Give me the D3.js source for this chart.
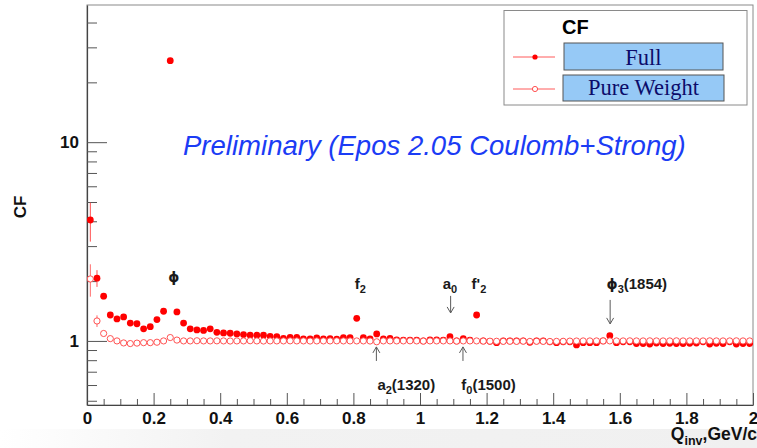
<!DOCTYPE html>
<html>
<head>
<meta charset="utf-8">
<script src="https://cdn.jsdelivr.net/npm/d3@7"></script>
<style>
  body { margin: 0; background: #fff; }
  svg { display: block; }
</style>
</head>
<body>
<svg id="chart" width="757" height="448"></svg>
<script>
// Q_inv bin centres (GeV/c), 0.02 wide bins
const binCenters = [
  0.01,0.03,0.05,0.07,0.09,0.11,0.13,0.15,0.17,0.19,
  0.21,0.23,0.25,0.27,0.29,0.31,0.33,0.35,0.37,0.39,
  0.41,0.43,0.45,0.47,0.49,0.51,0.53,0.55,0.57,0.59,
  0.61,0.63,0.65,0.67,0.69,0.71,0.73,0.75,0.77,0.79,
  0.81,0.83,0.85,0.87,0.89,0.91,0.93,0.95,0.97,0.99,
  1.01,1.03,1.05,1.07,1.09,1.11,1.13,1.15,1.17,1.19,
  1.21,1.23,1.25,1.27,1.29,1.31,1.33,1.35,1.37,1.39,
  1.41,1.43,1.45,1.47,1.49,1.51,1.53,1.55,1.57,1.59,
  1.61,1.63,1.65,1.67,1.69,1.71,1.73,1.75,1.77,1.79,
  1.81,1.83,1.85,1.87,1.89,1.91,1.93,1.95,1.97,1.99
];

// Correlation function, full calculation
const fullCF = [
  4.06,2.07,1.68,1.35,1.29,1.32,1.23,1.22,1.15,1.18,
  1.28,1.41,25.7,1.40,1.23,1.15,1.136,1.13,1.15,1.105,
  1.097,1.093,1.084,1.076,1.068,1.068,1.068,1.055,1.05,1.03,
  1.043,1.043,1.023,1.023,1.035,1.023,1.027,1.02,1.04,1.04,
  1.30,1.04,1.023,1.084,1.023,1.03,1.012,1.01,1.01,1.008,
  1.0,1.012,1.012,1.008,1.05,1.0,1.027,1.008,1.35,1.0,
  0.995,0.98,1.0,1.0,1.0,1.0,0.985,1.0,1.0,0.99,
  0.98,0.99,0.99,0.955,0.98,0.98,0.98,1.0,1.063,0.98,
  0.99,0.99,0.97,0.97,0.965,0.975,0.97,0.973,0.97,0.97,
  0.973,0.975,0.99,0.965,0.973,0.97,0.99,0.965,0.97,0.97
];
// Statistical errors of the full CF (only the first bins exceed the marker size)
const fullErr = [0.9,0.2,0.06,0.03,0.02,0.02,0.015,0.015,0.012,0.012];

// Correlation function, pure weight
const pureCF = [
  2.05,1.26,1.09,1.027,1.0,0.977,0.97,0.975,0.98,0.98,
  0.985,1.0,1.04,1.01,1.0,1.0,1.002,1.0,1.0,1.001,
  1.0,0.999,1.0,1.0,1.002,1.0,0.999,1.0,1.0,1.0,
  1.001,1.0,1.0,0.999,1.0,1.0,1.0,1.001,1.0,1.0,
  1.0,1.0,0.999,0.99,1.0,1.0,1.0,1.0,1.001,1.0,
  0.998,1.0,1.0,1.0,1.0,0.998,1.0,1.0,1.0,0.998,
  0.997,0.996,0.995,0.996,0.995,0.997,0.995,0.996,0.995,0.994,
  0.995,0.996,0.998,0.999,1.0,1.0,1.0,1.0,1.0,1.0,
  1.0,1.001,1.0,1.0,1.001,1.0,1.0,1.0,1.001,1.0,
  1.0,1.0,1.0,1.001,1.0,1.0,1.0,1.001,1.0,1.0
];
const pureErr = [0.38,0.085,0.02,0.012,0.01];

// Axis ticks
const xMajorTicks = [0,0.2,0.4,0.6,0.8,1.0,1.2,1.4,1.6,1.8,2.0];
const xTickLabels = ["0","0.2","0.4","0.6","0.8","1","1.2","1.4","1.6","1.8","2"];
const xMinorTicks = [0.05,0.1,0.15,0.25,0.3,0.35,0.45,0.5,0.55,0.65,0.7,0.75,0.85,0.9,0.95,
  1.05,1.1,1.15,1.25,1.3,1.35,1.45,1.5,1.55,1.65,1.7,1.75,1.85,1.9,1.95];
const yMajorTicks = [1,10];
const yTickLabels = ["1","10"];
const yMinorTicks = [0.5,0.6,0.7,0.8,0.9,2,3,4,5,6,7,8,9,20,30,40];

// Resonance annotations (position in Q_inv and CF)
const labels = [
  {x:0.261, y:1.98, anchor:"middle", text:"\u03d5", sub:"", tail:""},
  {x:0.804, y:1.83, anchor:"start", text:"f", sub:"2", tail:""},
  {x:1.068, y:1.83, anchor:"start", text:"a", sub:"0", tail:""},
  {x:1.155, y:1.83, anchor:"start", text:"f'", sub:"2", tail:""},
  {x:1.560, y:1.83, anchor:"start", text:"\u03d5", sub:"3", tail:"(1854)"},
  {x:0.872, y:0.567, anchor:"start", text:"a", sub:"2", tail:"(1320)"},
  {x:1.124, y:0.567, anchor:"start", text:"f", sub:"0", tail:"(1500)"}
];
const arrows = [
  {x:1.092, from:1.685, to:1.383},
  {x:1.571, from:1.608, to:1.218},
  {x:0.869, from:0.793, to:0.933},
  {x:1.129, from:0.793, to:0.933}
];

const legendTitle = "CF";
const seriesNames = ["Full", "Pure Weight"];

const FONT = "'Liberation Sans', Arial, Helvetica, sans-serif";
const GREEK = "'DejaVu Sans', 'Liberation Sans', sans-serif";
const SERIF = "'Liberation Serif', 'Times New Roman', serif";
const RED = "#ff0000";

const svg = d3.select("#chart");
const W = 757, H = 448;
const plot = {left: 87, right: 753, top: 5, bottom: 405};

const x = d3.scaleLinear().domain([0, 2]).range([plot.left, plot.right]);
const y = d3.scaleLog().domain([0.476, 49]).range([plot.bottom, plot.top]);

// soft grey band along the bottom edge
const defs = svg.append("defs");
const grad = defs.append("linearGradient").attr("id", "bandGrad")
  .attr("x1", "0").attr("x2", "1").attr("y1", "0").attr("y2", "0");
grad.append("stop").attr("offset", "0").attr("stop-color", "#fff");
grad.append("stop").attr("offset", "0.3").attr("stop-color", "#f2f2f2");
grad.append("stop").attr("offset", "1").attr("stop-color", "#f0f0f0");
svg.append("rect").attr("x", 0).attr("y", 429).attr("width", W).attr("height", H - 429)
  .attr("fill", "url(#bandGrad)");

defs.append("clipPath").attr("id", "plotClip").append("rect")
  .attr("x", plot.left).attr("y", plot.top)
  .attr("width", plot.right - plot.left).attr("height", plot.bottom - plot.top);

// frame
svg.append("rect")
  .attr("x", plot.left).attr("y", plot.top)
  .attr("width", plot.right - plot.left).attr("height", plot.bottom - plot.top)
  .attr("fill", "#fff").attr("stroke", "#8a8a8a").attr("stroke-width", 1);

// X axis
const xAxisG = svg.append("g").attr("transform", `translate(0,${plot.bottom})`);
xAxisG.call(d3.axisBottom(x).tickValues(xMajorTicks).tickSizeInner(-12).tickSizeOuter(0)
  .tickPadding(7).tickFormat((d, i) => xTickLabels[i]));
const xMinorG = svg.append("g").attr("transform", `translate(0,${plot.bottom})`);
xMinorG.call(d3.axisBottom(x).tickValues(xMinorTicks).tickSizeInner(-6).tickSizeOuter(0).tickFormat(""));
xMinorG.select(".domain").remove();

// Y axis
const yAxisG = svg.append("g").attr("transform", `translate(${plot.left},0)`);
yAxisG.call(d3.axisLeft(y).tickValues(yMajorTicks).tickSizeInner(-20).tickSizeOuter(0)
  .tickPadding(8).tickFormat((d, i) => yTickLabels[i]));
const yMinorG = svg.append("g").attr("transform", `translate(${plot.left},0)`);
yMinorG.call(d3.axisLeft(y).tickValues(yMinorTicks).tickSizeInner(-10).tickSizeOuter(0).tickFormat(""));
yMinorG.select(".domain").remove();

svg.selectAll(".domain").attr("stroke", "#444").attr("stroke-width", 1.2);
svg.selectAll(".tick line").attr("stroke", "#555").attr("stroke-width", 1);
svg.selectAll(".tick text")
  .attr("font-family", FONT).attr("font-size", 17).attr("font-weight", "bold").attr("fill", "#111");

// axis titles
svg.append("text")
  .attr("transform", "translate(26,207) rotate(-90)")
  .attr("text-anchor", "middle")
  .attr("font-family", FONT).attr("font-size", 17).attr("font-weight", "bold").attr("fill", "#111")
  .text("CF");

const xt = svg.append("text")
  .attr("x", 757).attr("y", 440).attr("text-anchor", "end")
  .attr("font-family", FONT).attr("font-size", 17.5).attr("font-weight", "bold").attr("fill", "#111");
xt.append("tspan").text("Q");
xt.append("tspan").attr("font-size", 12.5).attr("dy", 5).text("inv");
xt.append("tspan").attr("dy", -5).text(",GeV/c");

// Preliminary label
const prelim = svg.append("text")
  .attr("x", 183).attr("y", 155)
  .attr("font-family", FONT).attr("font-style", "italic").attr("font-size", 24)
  .attr("fill", "#1b3cf5")
  .text("Preliminary (Epos 2.05 Coulomb+Strong)");
const pl = prelim.node().getComputedTextLength();
prelim.attr("font-size", 24 * 503 / pl);

// data
const pts = binCenters.map((c, i) => ({
  x: c, full: fullCF[i], pure: pureCF[i],
  fe: fullErr[i] || 0, pe: pureErr[i] || 0
}));

const dataG = svg.append("g").attr("clip-path", "url(#plotClip)");

// error bars
dataG.selectAll("line.pe").data(pts.filter(d => d.pe > 0)).join("line")
  .attr("class", "pe")
  .attr("x1", d => x(d.x)).attr("x2", d => x(d.x))
  .attr("y1", d => y(d.pure - d.pe)).attr("y2", d => y(d.pure + d.pe))
  .attr("stroke", "#ff6a6a").attr("stroke-width", 1);
dataG.selectAll("line.fe").data(pts.filter(d => d.fe > 0)).join("line")
  .attr("class", "fe")
  .attr("x1", d => x(d.x)).attr("x2", d => x(d.x))
  .attr("y1", d => y(d.full - d.fe)).attr("y2", d => y(d.full + d.fe))
  .attr("stroke", "#ff5050").attr("stroke-width", 1);

// full CF markers
dataG.selectAll("circle.full").data(pts).join("circle")
  .attr("class", "full")
  .attr("cx", d => x(d.x)).attr("cy", d => y(d.full)).attr("r", 3.4)
  .attr("fill", RED);

// pure weight markers
dataG.selectAll("circle.pure").data(pts).join("circle")
  .attr("class", "pure")
  .attr("cx", d => x(d.x)).attr("cy", d => y(d.pure)).attr("r", 3.1)
  .attr("fill", "#fff").attr("stroke", "#ff4040").attr("stroke-width", 0.9);

// resonance labels
const labG = svg.append("g")
  .attr("font-family", FONT).attr("font-weight", "bold").attr("fill", "#1a1a1a");
labels.forEach(l => {
  const t = labG.append("text")
    .attr("x", x(l.x)).attr("y", y(l.y))
    .attr("text-anchor", l.anchor).attr("font-size", 15);
  t.append("tspan")
    .attr("font-family", l.text === "\u03d5" ? GREEK : FONT)
    .attr("font-size", l.text === "\u03d5" ? 14 : 15)
    .text(l.text);
  if (l.sub) t.append("tspan").attr("font-size", 11).attr("dy", 4).text(l.sub);
  if (l.tail) t.append("tspan").attr("dy", -4).text(l.tail);
});

// arrows
const arG = svg.append("g").attr("stroke", "#5a5a5a").attr("stroke-width", 1).attr("fill", "none");
arrows.forEach(a => {
  const ax = x(a.x), y0 = y(a.from), y1 = y(a.to);
  const dir = y1 > y0 ? 1 : -1;
  arG.append("line").attr("x1", ax).attr("x2", ax).attr("y1", y0).attr("y2", y1);
  arG.append("path")
    .attr("d", `M${ax - 3.5},${y1 - dir * 6}L${ax},${y1}L${ax + 3.5},${y1 - dir * 6}`);
});

// legend
const lg = svg.append("g");
lg.append("rect").attr("x", 504).attr("y", 10.5).attr("width", 243).attr("height", 94.5)
  .attr("fill", "#fff").attr("stroke", "#8a8a8a").attr("stroke-width", 1);
lg.append("text").attr("x", 562).attr("y", 34)
  .attr("font-family", FONT).attr("font-weight", "bold").attr("font-size", 20).attr("fill", "#000")
  .text(legendTitle);

const entries = [
  {name: seriesNames[0], ly: 57, box: [564, 43, 159, 27], ty: 65, open: false},
  {name: seriesNames[1], ly: 89, box: [563, 75, 161, 26], ty: 95, open: true}
];
entries.forEach(e => {
  lg.append("line").attr("x1", 513).attr("x2", 555).attr("y1", e.ly).attr("y2", e.ly)
    .attr("stroke", "#ff5a5a").attr("stroke-width", 1);
  lg.append("circle").attr("cx", 535).attr("cy", e.ly).attr("r", 2.6)
    .attr("fill", e.open ? "#fff" : RED)
    .attr("stroke", e.open ? "#ff4040" : "none").attr("stroke-width", 0.9);
  lg.append("rect").attr("x", e.box[0]).attr("y", e.box[1])
    .attr("width", e.box[2]).attr("height", e.box[3])
    .attr("fill", "#96c9f6").attr("stroke", "#555").attr("stroke-width", 1);
  lg.append("text").attr("x", e.box[0] + e.box[2] / 2).attr("y", e.ty)
    .attr("text-anchor", "middle")
    .attr("font-family", SERIF).attr("font-size", 22.5).attr("fill", "#0c0c6a")
    .text(e.name);
});
</script>
</body>
</html>
